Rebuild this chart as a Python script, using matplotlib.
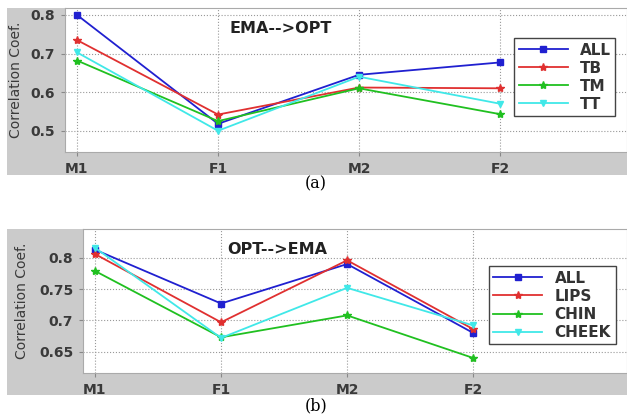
import matplotlib
matplotlib.use('Agg')
import matplotlib.pyplot as plt
from matplotlib.patches import Rectangle

speakers = ['M1', 'F1', 'M2', 'F2']

# (a) EMA-->OPT
all_a = [0.800, 0.518, 0.645, 0.677]
tb_a = [0.735, 0.542, 0.612, 0.610]
tm_a = [0.682, 0.525, 0.610, 0.543]
tt_a = [0.703, 0.500, 0.640, 0.570]

# (b) OPT-->EMA
all_b = [0.813, 0.727, 0.790, 0.680]
lips_b = [0.806, 0.697, 0.796, 0.686]
chin_b = [0.779, 0.673, 0.708, 0.640]
cheek_b = [0.816, 0.672, 0.752, 0.692]

W, H = 627, 420
fig = plt.figure(figsize=(W / 100, H / 100), dpi=100)
fig.patch.set_facecolor('white')

gray = '#cbcbcb'
txt = '#3a3a3a'
for y0, y1 in [(8, 175), (229, 395)]:
    fig.add_artist(Rectangle((7 / W, 1 - y1 / H), 1 - 7 / W, (y1 - y0) / H,
                             transform=fig.transFigure, facecolor=gray,
                             edgecolor='none', zorder=-10))


def panel(rect, series, names, ylim, xlim, yticks, ylabels, title, title_x, leg_y, lab_x):
    ax = fig.add_axes(rect)
    ax.set_facecolor('white')
    x = list(range(1, len(speakers) + 1))
    styles = [('#2020d0', 's', 5), ('#e03030', '*', 6), ('#20c020', '*', 6), ('#40e8e8', 'v', 5)]
    for vals, name, (c, m, ms) in zip(series, names, styles):
        ax.plot(x, vals, color=c, marker=m, markersize=ms, lw=1.3,
                markerfacecolor=c, label=name)
    ax.set_xlim(*xlim)
    ax.set_ylim(*ylim)
    ax.set_xticks(x)
    ax.set_xticklabels(speakers, fontsize=10, fontweight='bold', color=txt)
    ax.set_yticks(yticks)
    ax.set_yticklabels(ylabels, fontsize=10, fontweight='bold', color=txt)
    ax.tick_params(length=3, color='#888888', pad=4)
    ax.grid(True, linestyle=':', color='#999999', lw=0.8)
    for s in ax.spines.values():
        s.set_color('#aaaaaa')
        s.set_linewidth(0.8)
    ax.set_ylabel('Correlation Coef.', fontsize=10, color=txt)
    bb = ax.get_position()
    ax.yaxis.set_label_coords(lab_x / W, (bb.y0 + bb.y1) / 2, transform=fig.transFigure)
    ax.text(title_x, 0.86, title, transform=ax.transAxes, fontsize=11.5,
            fontweight='bold', color='#222222', va='center')
    leg = ax.legend(loc='center right', bbox_to_anchor=(0.993, leg_y), fontsize=11,
                    handlelength=3.2, fancybox=False, framealpha=1,
                    edgecolor='#444444', borderpad=0.3, labelspacing=0.2)
    for t in leg.get_texts():
        t.set_fontweight('bold')
        t.set_color('#333333')
    return ax


panel([65 / W, 1 - 152 / H, 1 - 65 / W, 144 / H],
      [all_a, tb_a, tm_a, tt_a], ['ALL', 'TB', 'TM', 'TT'],
      (0.445, 0.818), (0.915, 4.9), [0.5, 0.6, 0.7, 0.8],
      ['0.5', '0.6', '0.7', '0.8'], 'EMA-->OPT', 0.292, 0.52, 23)
fig.text(316 / W, 1 - 184 / H, '(a)', fontsize=11.5, family='DejaVu Serif',
         ha='center', va='center')

panel([83 / W, 1 - 373 / H, 1 - 83 / W, 144 / H],
      [all_b, lips_b, chin_b, cheek_b], ['ALL', 'LIPS', 'CHIN', 'CHEEK'],
      (0.616, 0.846), (0.905, 5.22), [0.65, 0.7, 0.75, 0.8],
      ['0.65', '0.7', '0.75', '0.8'], 'OPT-->EMA', 0.265, 0.47, 29)
fig.text(316 / W, 1 - 406 / H, '(b)', fontsize=11.5, family='DejaVu Serif',
         ha='center', va='center')

fig.savefig('out.png', dpi=100)
